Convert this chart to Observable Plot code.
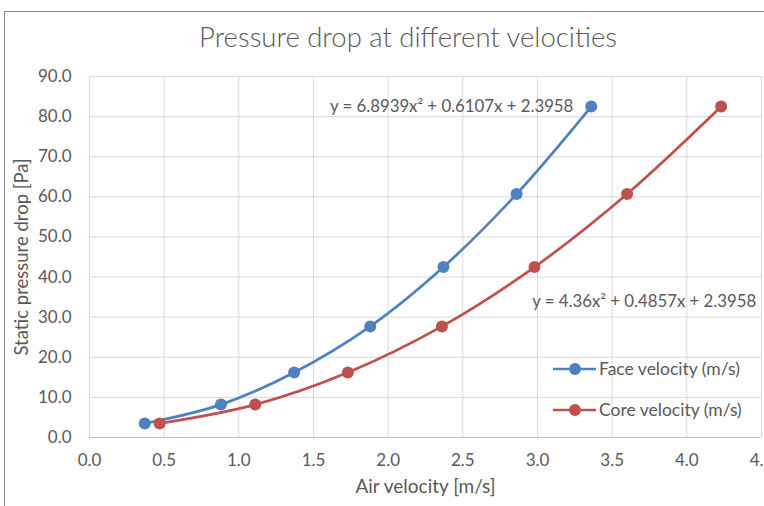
<!DOCTYPE html>
<html><head><meta charset="utf-8">
<script src="https://cdn.jsdelivr.net/npm/d3@7"></script>
<script src="https://cdn.jsdelivr.net/npm/@observablehq/plot@0.6"></script>
<style>
body{margin:0;background:#fff;}
#chart{position:relative;width:764px;height:506px;overflow:hidden;font-family:Lato,sans-serif;color:#595959;background:#fff;}
#frame{position:absolute;left:4px;top:11px;width:900px;height:600px;border-top:1px solid #8c8c8c;border-left:1px solid #8c8c8c;box-sizing:border-box;}
#title{position:absolute;left:0;width:816px;top:20px;text-align:center;font-size:27.5px;font-weight:300;white-space:nowrap;}
#chart svg{position:absolute;left:0;top:0;}
</style></head>
<body>
<div id="chart"><div id="frame"></div><div id="title">Pressure drop at different velocities</div></div>
<script>
const pressure = [3.5, 8.2, 16.2, 27.7, 42.5, 60.7, 82.5];
const faceVelocity = [0.37, 0.88, 1.37, 1.88, 2.37, 2.86, 3.36];
const coreVelocity = [0.47, 1.11, 1.73, 2.36, 2.98, 3.60, 4.23];
const seriesNames = ["Face velocity (m/s)", "Core velocity (m/s)"];
const equations = ["y = 6.8939x\u00b2 + 0.6107x + 2.3958", "y = 4.36x\u00b2 + 0.4857x + 2.3958"];
const xTicks = [0, 0.5, 1, 1.5, 2, 2.5, 3, 3.5, 4, 4.5];
const yTicks = [0, 10, 20, 30, 40, 50, 60, 70, 80, 90];
const xLabel = "Air velocity [m/s]";
const yLabel = "Static pressure drop [Pa]";

const colors = ["#4F81BD", "#C0504D"];
const face = pressure.map((p, i) => ({x: faceVelocity[i], y: p, s: seriesNames[0]}));
const core = pressure.map((p, i) => ({x: coreVelocity[i], y: p, s: seriesNames[1]}));
// annotation anchors (data units)
const eqPos = [{x: 3.24, y: 82.5}, {x: 2.965, y: 33.8}];

const plot = Plot.plot({
  width: 764, height: 506,
  marginLeft: 89, marginRight: 3, marginTop: 76, marginBottom: 69,
  style: {fontFamily: "Lato, sans-serif", color: "#595959", background: "transparent", overflow: "visible"},
  x: {domain: [0, 4.5]},
  y: {domain: [0, 90]},
  marks: [
    Plot.gridX(xTicks, {stroke: "#d9d9d9", strokeOpacity: 1, strokeWidth: 1}),
    Plot.gridY(yTicks, {stroke: "#d9d9d9", strokeOpacity: 1, strokeWidth: 1}),
    Plot.ruleY([0], {stroke: "#bfbfbf", strokeWidth: 1.2}),
    Plot.axisX(xTicks, {tickSize: 0, tickPadding: 16, fontSize: 17, tickFormat: d => d.toFixed(1), label: null}),
    Plot.axisY(yTicks, {tickSize: 0, tickPadding: 18, fontSize: 17, tickFormat: d => d.toFixed(1), label: null}),
    Plot.text([xLabel], {text: d => d, frameAnchor: "bottom", dy: 55, fontSize: 19, fill: "#595959"}),
    Plot.text([yLabel], {text: d => d, frameAnchor: "left", textAnchor: "middle", dx: -67, rotate: -90, fontSize: 18.5, fill: "#595959"}),
    Plot.line(face, {x: "x", y: "y", stroke: colors[0], strokeWidth: 2.7, curve: "catmull-rom"}),
    Plot.line(core, {x: "x", y: "y", stroke: colors[1], strokeWidth: 2.7, curve: "catmull-rom"}),
    Plot.dot(face, {x: "x", y: "y", fill: colors[0], r: 6}),
    Plot.dot(core, {x: "x", y: "y", fill: colors[1], r: 6}),
    Plot.text([0], {x: () => eqPos[0].x, y: () => eqPos[0].y, text: () => equations[0], textAnchor: "end", fontSize: 16.8, fill: "#595959"}),
    Plot.text([0], {x: () => eqPos[1].x, y: () => eqPos[1].y, text: () => equations[1], textAnchor: "start", fontSize: 16.8, fill: "#595959"})
  ]
});
document.getElementById("chart").appendChild(plot);

// legend
const svg = d3.select(plot);
const lg = svg.append("g").attr("text-anchor", "start");
seriesNames.forEach((name, i) => {
  const y = 369 + i * 41;
  lg.append("line").attr("x1", 553).attr("x2", 596).attr("y1", y).attr("y2", y).attr("stroke", colors[i]).attr("stroke-width", 2.7);
  lg.append("circle").attr("cx", 575).attr("cy", y).attr("r", 6).attr("fill", colors[i]);
  lg.append("text").attr("x", 599).attr("y", y).attr("dy", "0.35em").attr("font-size", 17.5).attr("fill", "#595959").text(name);
});
</script>
</body></html>
